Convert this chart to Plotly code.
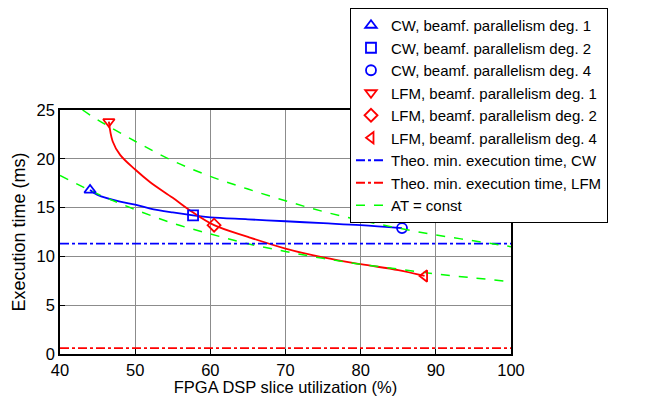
import plotly.graph_objects as go

# CW measured curve
cw_x = [44.0, 45, 48, 50, 52, 55, 57.7, 60, 65, 70, 75, 80, 85.5]
cw_y = [16.8, 16.3, 15.6, 15.3, 14.9, 14.5, 14.2, 14.0, 13.8, 13.6, 13.4, 13.2, 12.9]
# LFM measured curve
lfm_x = [46.5, 47, 48, 50, 52, 55, 57.5, 60.5, 65, 70, 75, 80, 85, 88.5]
lfm_y = [23.8, 21.8, 20.4, 18.9, 17.6, 16.0, 14.6, 13.2, 12.0, 10.8, 9.9, 9.2, 8.6, 8.0]
# marker points
cw_pts_x = [44.0, 57.7, 85.5]
cw_pts_y = [16.8, 14.2, 12.9]
lfm_pts_x = [46.5, 60.5, 88.5]
lfm_pts_y = [23.8, 13.2, 8.0]
# AT = const curves
at1_x = [43, 45, 50, 55, 60, 65, 70, 75, 80, 85, 90, 95, 100]
at1_y = [25.0, 24.0, 21.8, 19.8, 18.2, 16.9, 15.7, 14.6, 13.7, 12.9, 12.2, 11.6, 11.0]
at2_x = [40, 45, 50, 55, 60, 65, 70, 75, 80, 85, 90, 95, 100]
at2_y = [18.3, 16.4, 14.8, 13.4, 12.3, 11.3, 10.5, 9.8, 9.2, 8.7, 8.2, 7.8, 7.4]
# theoretical minima
theo_cw = 11.3
theo_lfm = 0.6

BLUE = "rgb(0,0,255)"
RED = "rgb(255,0,0)"
GREEN = "rgb(0,255,0)"

fig = go.Figure()
fig.add_trace(go.Scatter(x=cw_x, y=cw_y, mode="lines", line=dict(color=BLUE, width=1.8, shape="spline"), showlegend=False))
fig.add_trace(go.Scatter(x=lfm_x, y=lfm_y, mode="lines", line=dict(color=RED, width=1.8, shape="spline"), showlegend=False))
fig.add_trace(go.Scatter(x=at2_x, y=at2_y, mode="lines", showlegend=False,
                         line=dict(color=GREEN, width=1.5, dash="dash", shape="spline")))

cw_names = ["CW, beamf. parallelism deg. 1", "CW, beamf. parallelism deg. 2", "CW, beamf. parallelism deg. 4"]
cw_syms = ["triangle-up-open", "square-open", "circle-open"]
for i in range(3):
    fig.add_trace(go.Scatter(x=[cw_pts_x[i]], y=[cw_pts_y[i]], mode="markers", name=cw_names[i],
                             marker=dict(symbol=cw_syms[i], size=10, color=BLUE, line=dict(width=1.8, color=BLUE))))
lfm_names = ["LFM, beamf. parallelism deg. 1", "LFM, beamf. parallelism deg. 2", "LFM, beamf. parallelism deg. 4"]
lfm_syms = ["triangle-down-open", "diamond-open", "triangle-left-open"]
for i in range(3):
    fig.add_trace(go.Scatter(x=[lfm_pts_x[i]], y=[lfm_pts_y[i]], mode="markers", name=lfm_names[i],
                             marker=dict(symbol=lfm_syms[i], size=10, color=RED, line=dict(width=1.8, color=RED))))

fig.add_trace(go.Scatter(x=[40, 100], y=[theo_cw, theo_cw], mode="lines", name="Theo. min. execution time, CW",
                         line=dict(color=BLUE, width=1.8, dash="dashdot")))
fig.add_trace(go.Scatter(x=[40, 100], y=[theo_lfm, theo_lfm], mode="lines", name="Theo. min. execution time, LFM",
                         line=dict(color=RED, width=1.8, dash="dashdot")))
fig.add_trace(go.Scatter(x=at1_x, y=at1_y, mode="lines", name="AT = const",
                         line=dict(color=GREEN, width=1.5, dash="dash", shape="spline")))

axis_common = dict(showline=True, linecolor="black", linewidth=1.5, mirror=True,
                   showgrid=True, gridcolor="rgb(140,140,140)", gridwidth=1,
                   ticks="inside", ticklen=5, tickcolor="black", zeroline=False,
                   tickfont=dict(size=16.5, color="black"))
fig.update_xaxes(range=[40, 100], dtick=10, title=dict(text="FPGA DSP slice utilization (%)", font=dict(size=16.5, color="black"), standoff=2), **axis_common)
fig.update_yaxes(range=[0, 25], dtick=5, title=dict(text="Execution time (ms)", font=dict(size=18, color="black"), standoff=6), **axis_common)

fig.update_layout(
    width=641, height=388,
    margin=dict(l=52, r=138, t=102, b=42, autoexpand=False),
    plot_bgcolor="white", paper_bgcolor="white",
    font=dict(family="Liberation Sans, Arial, sans-serif", color="black"),
    legend=dict(x=0.643, y=1.418, xanchor="left", yanchor="top",
                bgcolor="white", bordercolor="black", borderwidth=1,
                font=dict(size=15, color="black"), tracegroupgap=0, itemwidth=30,
                maxheight=400),
)
fig.write_html("out.html")
